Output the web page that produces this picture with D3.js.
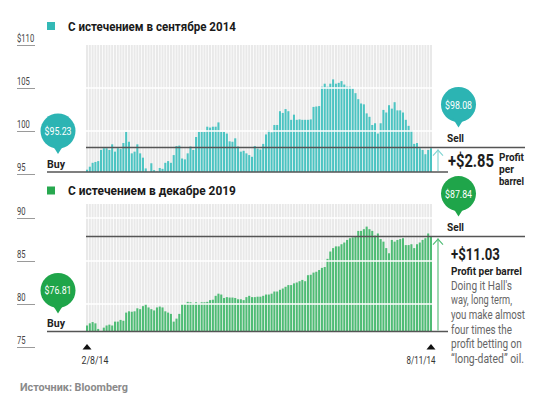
<!DOCTYPE html>
<html><head><meta charset="utf-8">
<script src="https://cdn.jsdelivr.net/npm/d3@7"></script>
<style>
body{margin:0;background:#fff;}
svg{display:block;}
text{font-family:Roboto,"Liberation Sans",sans-serif;}
</style></head>
<body><svg id="c" width="550" height="411"></svg>
<script>
// ---------- DATA ----------
const sepTitle = "С истечением в сентябре 2014";
const decTitle = "С истечением в декабре 2019";
const dateLabels = ["2/8/14", "8/11/14"];
const sepTicks = [95, 100, 105, 110];
const sepTickLabels = ["95", "100", "105", "$110"];
const decTicks = [75, 80, 85, 90];
const decTickLabels = ["75", "80", "85", "90"];
const sepBuy = 95.23, sepSell = 98.08, sepProfit = "+$2.85";
const decBuy = 76.81, decSell = 87.84, decProfit = "+$11.03";
const sepValues = [
95.5,95.85,96.3,96.4,96.5,97.8,98.0,98.0,97.8,98.45,
97.6,98.0,97.9,98.6,99.9,98.75,97.4,97.6,98.45,97.4,
96.9,95.65,95.25,96.25,95.45,95.3,95.7,95.6,96.3,96.5,
96.3,97.2,98.25,98.3,96.8,96.7,97.4,98.2,97.8,99.3,
99.9,99.9,99.9,100.5,100.4,100.5,100.5,101.0,99.9,99.9,
99.7,98.8,98.75,99.15,98.2,97.6,97.7,97.4,97.2,97.0,
98.25,97.95,97.85,98.5,99.6,100.1,99.85,100.7,100.7,102.3,
102.1,102.55,102.3,101.3,101.9,101.3,101.35,101.3,101.3,101.3,
101.35,102.8,102.85,102.9,105.15,105.5,105.15,105.5,106.0,105.5,
105.6,105.8,105.4,105.15,105.15,104.95,104.4,103.7,103.2,103.1,
102.05,101.65,100.7,100.9,99.7,100.9,102.45,102.15,103.0,102.6,
103.35,102.4,102.4,102.15,101.3,100.6,100.05,98.5,98.6,98.0,
97.8,97.3,97.8,98.0];
const decValues = [
77.5,77.75,77.9,77.75,77.1,76.85,77.25,77.5,77.6,77.5,
77.95,77.95,78.15,78.05,79.0,79.15,79.1,79.15,79.5,79.4,
79.75,80.0,79.6,79.4,79.25,79.6,79.7,79.6,79.15,79.0,
78.85,77.95,78.3,78.85,80.0,80.0,80.25,80.2,80.05,80.2,
80.05,80.2,80.2,80.25,80.45,80.5,80.95,81.2,81.1,80.7,
80.8,80.75,80.75,80.7,80.55,80.55,80.45,80.8,80.95,80.8,
80.8,80.85,80.85,80.95,81.1,81.1,81.2,81.45,81.45,81.65,
81.8,82.0,82.2,82.2,82.4,82.5,82.65,82.8,82.65,83.35,
83.4,83.65,83.75,83.95,84.2,84.3,85.25,86.1,86.5,86.7,
86.7,86.95,87.15,87.45,87.65,87.75,87.85,88.5,88.5,88.7,
89.0,88.7,88.5,87.95,88.2,87.55,87.25,86.5,85.9,87.45,
87.25,87.45,87.55,87.65,86.85,86.85,86.95,86.5,86.95,87.15,
87.45,87.65,88.2,87.85];
const noteLines = ["Doing it Hall's","way, long term,","you make almost","four times the","profit betting on","“long-dated” oil."];
const source = "Источник: Bloomberg";

// ---------- DRAW ----------
const svg = d3.select("#c");
const n = sepValues.length;
const x = d3.scaleBand().domain(d3.range(n)).range([86, 432]).paddingInner(0.27);
const bw = x.bandwidth();

// place a text at (tx,ty) and squeeze it horizontally to width w
function label(parent, tx, ty, str, w, attrs){
  const t = parent.append("text").attr("x",0).attr("y",0).text(str);
  Object.entries(attrs||{}).forEach(([k,v])=>t.attr(k,v));
  const len = t.node().getComputedTextLength() || w;
  t.attr("transform",`translate(${tx},${ty}) scale(${w/len},1)`);
  return t;
}

function panel(o){
  const y = d3.scaleLinear().domain([o.ticks[0], o.ticks[3]]).range(o.yr);
  const g = svg.append("g");
  // legend + title
  g.append("rect").attr("x",47).attr("y",o.legY).attr("width",8).attr("height",8).attr("fill",o.legColor);
  label(g, 68, o.legY+8.5, o.title, 168, {"font-family":"'Open Sans',sans-serif","font-weight":"bold","font-size":12.5,"fill":"#1a1a1a"});
  // grey slots
  g.append("g").selectAll("rect").data(o.values).join("rect")
    .attr("x",(d,i)=>x(i)).attr("width",bw)
    .attr("y",y(o.gridTop)).attr("height",y(o.buy)-y(o.gridTop)).attr("fill","#e9e9e9");
  // bars
  g.append("g").selectAll("rect").data(o.values).join("rect")
    .attr("x",(d,i)=>x(i)).attr("width",bw)
    .attr("y",d=>y(d)).attr("height",d=>Math.max(0,y(o.buy)-y(d))).attr("fill",o.barColor);
  // white gridlines
  g.append("g").selectAll("line").data(o.grid).join("line")
    .attr("x1",86).attr("x2",432).attr("y1",d=>y(d)).attr("y2",d=>y(d))
    .attr("stroke","#fff").attr("stroke-width",1.6);
  // axis ticks
  const ax = d3.axisRight(y).tickValues(o.ticks).tickSize(18)
    .tickFormat((d,i)=>o.tickLabels[i]);
  const ag = g.append("g").attr("transform","translate(17,0)").call(ax);
  ag.select(".domain").remove();
  ag.selectAll(".tick line").attr("stroke","#9a9a9a").attr("stroke-width",1);
  ag.selectAll(".tick text").attr("x",0).attr("dy",0).attr("y",0).attr("text-anchor","start")
    .attr("font-size",11).attr("fill","#444").attr("font-family","Roboto,sans-serif")
    .each(function(d,i){
      const len = this.getComputedTextLength();
      d3.select(this).attr("transform",`translate(0,-3.5) scale(${o.tickLabels[i].length*4.3/len},1)`);
    });
  // buy / sell lines
  g.append("line").attr("x1",47).attr("x2",448).attr("y1",y(o.buy)).attr("y2",y(o.buy))
    .attr("stroke","#555").attr("stroke-width",1.5);
  g.append("line").attr("x1",86).attr("x2",525).attr("y1",y(o.sell)).attr("y2",y(o.sell))
    .attr("stroke","#555").attr("stroke-width",1.5);
  // arrow
  const ax0 = 438;
  g.append("line").attr("x1",ax0).attr("x2",ax0).attr("y1",y(o.buy)-1).attr("y2",y(o.sell)+2)
    .attr("stroke",o.arrowColor).attr("stroke-width",1.1);
  g.append("path").attr("d",`M${ax0-5},${y(o.sell)+8}L${ax0},${y(o.sell)+2.5}L${ax0+5},${y(o.sell)+8}`)
    .attr("fill","none").attr("stroke",o.arrowColor).attr("stroke-width",1.1);
  // bubbles
  function bubble(cx, tipY, txt, labW){
    const r = 17.5, cy = tipY - 23;
    g.append("circle").attr("cx",cx).attr("cy",cy).attr("r",r).attr("fill",o.bubbleColor);
    g.append("path").attr("d",`M${cx-6},${cy+r-4}L${cx},${tipY}L${cx+6},${cy+r-4}Z`).attr("fill",o.bubbleColor);
    label(g, cx, cy+4, txt, labW, {"text-anchor":"middle","font-size":11,"fill":"#fff"});
  }
  bubble(58, y(o.buy)-18, "$"+o.buy.toFixed(2), 27);
  bubble(458.5, y(o.sell)-20, "$"+o.sell.toFixed(2), 27);
  label(g, 47, y(o.buy)-4.5, "Buy", 18, {"font-weight":"bold","font-size":11.5,"fill":"#222"});
  label(g, 447, y(o.sell)-5.5, "Sell", 17, {"font-weight":"bold","font-size":11.5,"fill":"#222"});
  return y;
}

const yS = panel({title:sepTitle, legY:22, legColor:"#33b9b6", values:sepValues, ticks:sepTicks, tickLabels:sepTickLabels,
  yr:[174,45], gridTop:110, grid:[100,105], buy:sepBuy, sell:sepSell,
  barColor:"#4cc4c2", bubbleColor:"#2cb4b3", arrowColor:"#7fd4d2"});
const yD = panel({title:decTitle, legY:186.5, legColor:"#27a84f", values:decValues, ticks:decTicks, tickLabels:decTickLabels,
  yr:[347,218], gridTop:91.63, grid:[80,85,90], buy:decBuy, sell:decSell,
  barColor:"#4fbc75", bubbleColor:"#1fa54a", arrowColor:"#4fbc75"});

// profit texts (top)
label(svg, 448, 167, sepProfit, 46, {"font-weight":"bold","font-size":19,"fill":"#1e1e1e"});
[["Profit",161,25],["per",173,15],["barrel",185,25]].forEach(([t,yy,w])=>{
  label(svg, 499, yy, t, w, {"font-weight":"bold","font-size":10,"fill":"#222"});
});
// profit texts (bottom)
label(svg, 451, 260, decProfit, 49, {"font-weight":"bold","font-size":17,"fill":"#1e1e1e"});
label(svg, 451, 275, "Profit per barrel", 71, {"font-weight":"bold","font-size":11,"fill":"#222"});
const noteW = [61,61,74,61,71,73];
noteLines.forEach((t,i)=>{
  label(svg, 451, 289.7+i*14.65, t, noteW[i], {"font-size":12,"fill":"#666"});
});

// date markers
const dIdx = [0, n-1];
dIdx.forEach((di,k)=>{
  const cx = x(di)+bw/2;
  svg.append("path").attr("d",`M${cx-4.5},349.5L${cx},344L${cx+4.5},349.5Z`).attr("fill","#111");
  label(svg, k===0 ? cx-5.5 : cx+4.5, 364, dateLabels[k], k===0 ? 27 : 29,
    {"text-anchor": k===0 ? "start" : "end", "font-size":11.5, "fill":"#333"});
});

// source
label(svg, 20, 391, source, 108, {"font-family":"'Open Sans',sans-serif","font-weight":"bold","font-size":11,"fill":"#8a8a8a"});
</script></body></html>
